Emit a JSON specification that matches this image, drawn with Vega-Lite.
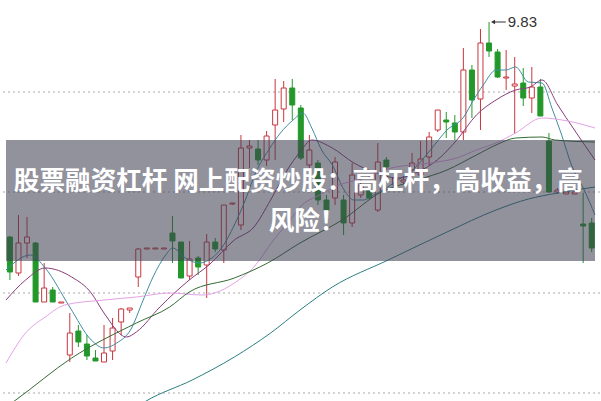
{
  "$schema": "https://vega.github.io/schema/vega-lite/v6.json",
  "width": 601,
  "height": 401,
  "padding": 0,
  "autosize": {"type": "fit", "contains": "padding"},
  "background": "#ffffff",
  "config": {"view": {"stroke": null}},
  "resolve": {"scale": {"color": "independent", "stroke": "independent", "fill": "independent"}},
  "datasets": {
    "candles": [
      {"t":0,"o":8.755,"h":8.76,"l":8.54,"c":8.58,"d":"down"},
      {"t":1,"o":8.575,"h":8.865,"l":8.56,"c":8.725,"d":"up"},
      {"t":2,"o":8.725,"h":8.855,"l":8.65,"c":8.755,"d":"up"},
      {"t":3,"o":8.725,"h":8.73,"l":8.43,"c":8.43,"d":"down"},
      {"t":4,"o":8.43,"h":8.625,"l":8.43,"c":8.5,"d":"up"},
      {"t":5,"o":8.49,"h":8.505,"l":8.43,"c":8.43,"d":"down"},
      {"t":6,"o":8.425,"h":8.43,"l":8.425,"c":8.43,"d":"up"},
      {"t":7,"o":8.165,"h":8.375,"l":8.13,"c":8.275,"d":"up"},
      {"t":8,"o":8.285,"h":8.315,"l":8.205,"c":8.23,"d":"down"},
      {"t":9,"o":8.22,"h":8.265,"l":8.14,"c":8.16,"d":"down"},
      {"t":10,"o":8.15,"h":8.19,"l":8.135,"c":8.135,"d":"down"},
      {"t":11,"o":8.13,"h":8.315,"l":8.13,"c":8.175,"d":"up"},
      {"t":12,"o":8.185,"h":8.35,"l":8.14,"c":8.3,"d":"up"},
      {"t":13,"o":8.33,"h":8.4,"l":8.265,"c":8.395,"d":"up"},
      {"t":14,"o":8.39,"h":8.4,"l":8.375,"c":8.4,"d":"up"},
      {"t":15,"o":8.555,"h":8.7,"l":8.505,"c":8.695,"d":"up"},
      {"t":16,"o":8.695,"h":8.7,"l":8.695,"c":8.7,"d":"up"},
      {"t":17,"o":8.695,"h":8.7,"l":8.695,"c":8.7,"d":"up"},
      {"t":18,"o":8.695,"h":8.7,"l":8.695,"c":8.7,"d":"up"},
      {"t":19,"o":8.775,"h":8.86,"l":8.625,"c":8.735,"d":"down"},
      {"t":20,"o":8.73,"h":8.73,"l":8.55,"c":8.55,"d":"down"},
      {"t":21,"o":8.56,"h":8.735,"l":8.54,"c":8.645,"d":"up"},
      {"t":22,"o":8.65,"h":8.66,"l":8.565,"c":8.605,"d":"down"},
      {"t":23,"o":8.615,"h":8.77,"l":8.45,"c":8.73,"d":"up"},
      {"t":24,"o":8.73,"h":8.75,"l":8.68,"c":8.695,"d":"down"},
      {"t":25,"o":8.69,"h":8.915,"l":8.625,"c":8.915,"d":"up"},
      {"t":26,"o":8.92,"h":8.925,"l":8.915,"c":8.925,"d":"up"},
      {"t":27,"o":8.815,"h":9.265,"l":8.79,"c":9.2,"d":"up"},
      {"t":28,"o":9.2,"h":9.24,"l":9.1,"c":9.21,"d":"up"},
      {"t":29,"o":9.195,"h":9.24,"l":9.115,"c":9.14,"d":"down"},
      {"t":30,"o":9.14,"h":9.285,"l":9.11,"c":9.26,"d":"up"},
      {"t":31,"o":9.315,"h":9.545,"l":9.14,"c":9.39,"d":"up"},
      {"t":32,"o":9.395,"h":9.535,"l":9.33,"c":9.5,"d":"up"},
      {"t":33,"o":9.5,"h":9.545,"l":9.34,"c":9.415,"d":"down"},
      {"t":34,"o":9.4,"h":9.415,"l":9.14,"c":9.15,"d":"down"},
      {"t":35,"o":9.115,"h":9.265,"l":9.09,"c":9.19,"d":"up"},
      {"t":36,"o":9.125,"h":9.14,"l":8.915,"c":8.94,"d":"down"},
      {"t":37,"o":8.94,"h":8.965,"l":8.865,"c":8.89,"d":"down"},
      {"t":38,"o":8.95,"h":9.155,"l":8.915,"c":9.13,"d":"up"},
      {"t":39,"o":8.94,"h":8.965,"l":8.765,"c":8.825,"d":"down"},
      {"t":40,"o":8.825,"h":9.125,"l":8.805,"c":9.065,"d":"up"},
      {"t":41,"o":8.965,"h":9.05,"l":8.95,"c":9.015,"d":"up"},
      {"t":42,"o":8.99,"h":9.01,"l":8.94,"c":8.95,"d":"down"},
      {"t":43,"o":8.89,"h":9.225,"l":8.88,"c":9.13,"d":"up"},
      {"t":44,"o":9.14,"h":9.155,"l":9.09,"c":9.105,"d":"down"},
      {"t":45,"o":9.015,"h":9.08,"l":8.99,"c":9.05,"d":"up"},
      {"t":46,"o":9.03,"h":9.05,"l":9.02,"c":9.04,"d":"up"},
      {"t":47,"o":9.09,"h":9.175,"l":9.08,"c":9.125,"d":"up"},
      {"t":48,"o":9.065,"h":9.235,"l":9.04,"c":9.145,"d":"up"},
      {"t":49,"o":9.155,"h":9.28,"l":9.115,"c":9.255,"d":"up"},
      {"t":50,"o":9.29,"h":9.39,"l":9.28,"c":9.39,"d":"up"},
      {"t":51,"o":9.34,"h":9.38,"l":9.25,"c":9.33,"d":"down"},
      {"t":52,"o":9.325,"h":9.365,"l":9.24,"c":9.28,"d":"down"},
      {"t":53,"o":9.28,"h":9.7,"l":9.24,"c":9.59,"d":"up"},
      {"t":54,"o":9.59,"h":9.615,"l":9.35,"c":9.44,"d":"down"},
      {"t":55,"o":9.445,"h":9.795,"l":9.29,"c":9.725,"d":"up"},
      {"t":56,"o":9.725,"h":9.83,"l":9.655,"c":9.685,"d":"down"},
      {"t":57,"o":9.68,"h":9.695,"l":9.55,"c":9.555,"d":"down"},
      {"t":58,"o":9.55,"h":9.69,"l":9.49,"c":9.555,"d":"up"},
      {"t":59,"o":9.51,"h":9.655,"l":9.27,"c":9.52,"d":"up"},
      {"t":60,"o":9.525,"h":9.6,"l":9.41,"c":9.45,"d":"down"},
      {"t":61,"o":9.45,"h":9.605,"l":9.375,"c":9.505,"d":"up"},
      {"t":62,"o":9.505,"h":9.545,"l":9.36,"c":9.36,"d":"down"},
      {"t":63,"o":9.235,"h":9.275,"l":8.98,"c":8.98,"d":"down"},
      {"t":64,"o":8.98,"h":9.0,"l":8.97,"c":8.99,"d":"up"},
      {"t":65,"o":8.97,"h":8.98,"l":8.97,"c":8.98,"d":"up"},
      {"t":66,"o":8.97,"h":8.98,"l":8.97,"c":8.98,"d":"up"},
      {"t":67,"o":8.82,"h":8.975,"l":8.625,"c":8.81,"d":"down"},
      {"t":68,"o":8.825,"h":8.85,"l":8.68,"c":8.7,"d":"down"}
    ],
    "ma": [
      {"s":"ma5","t":-0.458,"v":8.59},{"s":"ma5","t":2.405,"v":8.665},{"s":"ma5","t":4.124,"v":8.6},{"s":"ma5","t":6.987,"v":8.405},{"s":"ma5","t":9.507,"v":8.24},{"s":"ma5","t":10.997,"v":8.2},{"s":"ma5","t":12.486,"v":8.225},{"s":"ma5","t":14.089,"v":8.29},{"s":"ma5","t":15.578,"v":8.44},{"s":"ma5","t":16.724,"v":8.555},{"s":"ma5","t":18.213,"v":8.665},{"s":"ma5","t":19.015,"v":8.7},{"s":"ma5","t":20.504,"v":8.65},{"s":"ma5","t":22.108,"v":8.625},{"s":"ma5","t":23.253,"v":8.64},{"s":"ma5","t":24.742,"v":8.7},{"s":"ma5","t":26.231,"v":8.815},{"s":"ma5","t":27.377,"v":8.925},{"s":"ma5","t":28.752,"v":9.08},{"s":"ma5","t":30.241,"v":9.19},{"s":"ma5","t":31.615,"v":9.275},{"s":"ma5","t":33.104,"v":9.34},{"s":"ma5","t":34.25,"v":9.375},{"s":"ma5","t":35.281,"v":9.3},{"s":"ma5","t":36.426,"v":9.19},{"s":"ma5","t":37.686,"v":9.115},{"s":"ma5","t":39.061,"v":8.99},{"s":"ma5","t":40.206,"v":8.94},{"s":"ma5","t":41.352,"v":8.94},{"s":"ma5","t":42.497,"v":8.965},{"s":"ma5","t":43.986,"v":9.0},{"s":"ma5","t":45.361,"v":9.04},{"s":"ma5","t":47.079,"v":9.09},{"s":"ma5","t":49.141,"v":9.19},{"s":"ma5","t":51.088,"v":9.29},{"s":"ma5","t":53.036,"v":9.355},{"s":"ma5","t":54.181,"v":9.44},{"s":"ma5","t":55.326,"v":9.515},{"s":"ma5","t":56.816,"v":9.59},{"s":"ma5","t":57.961,"v":9.59},{"s":"ma5","t":59.107,"v":9.605},{"s":"ma5","t":60.596,"v":9.53},{"s":"ma5","t":62.199,"v":9.525},{"s":"ma5","t":63.345,"v":9.4},{"s":"ma5","t":64.49,"v":9.265},{"s":"ma5","t":65.636,"v":9.115},{"s":"ma5","t":67.125,"v":8.99},{"s":"ma5","t":68.385,"v":8.865},
      {"s":"ma10","t":-0.458,"v":8.44},{"s":"ma10","t":1.833,"v":8.54},{"s":"ma10","t":4.124,"v":8.6},{"s":"ma10","t":7.216,"v":8.555},{"s":"ma10","t":9.507,"v":8.475},{"s":"ma10","t":10.997,"v":8.375},{"s":"ma10","t":13.631,"v":8.255},{"s":"ma10","t":14.777,"v":8.28},{"s":"ma10","t":17.526,"v":8.405},{"s":"ma10","t":20.962,"v":8.54},{"s":"ma10","t":23.253,"v":8.615},{"s":"ma10","t":26.231,"v":8.74},{"s":"ma10","t":28.522,"v":8.805},{"s":"ma10","t":30.47,"v":8.94},{"s":"ma10","t":32.417,"v":9.09},{"s":"ma10","t":33.906,"v":9.18},{"s":"ma10","t":35.281,"v":9.24},{"s":"ma10","t":37.686,"v":9.2},{"s":"ma10","t":40.206,"v":9.125},{"s":"ma10","t":42.497,"v":9.08},{"s":"ma10","t":45.361,"v":9.05},{"s":"ma10","t":47.652,"v":9.08},{"s":"ma10","t":49.943,"v":9.14},{"s":"ma10","t":52.234,"v":9.24},{"s":"ma10","t":54.525,"v":9.365},{"s":"ma10","t":56.816,"v":9.44},{"s":"ma10","t":59.107,"v":9.49},{"s":"ma10","t":60.825,"v":9.505},{"s":"ma10","t":62.199,"v":9.54},{"s":"ma10","t":64.032,"v":9.415},{"s":"ma10","t":65.979,"v":9.29},{"s":"ma10","t":68.385,"v":9.14},
      {"s":"ma20","t":-0.458,"v":8.125},{"s":"ma20","t":1.833,"v":8.275},{"s":"ma20","t":4.124,"v":8.355},{"s":"ma20","t":6.415,"v":8.415},{"s":"ma20","t":10.997,"v":8.44},{"s":"ma20","t":14.777,"v":8.455},{"s":"ma20","t":18.671,"v":8.475},{"s":"ma20","t":22.451,"v":8.465},{"s":"ma20","t":23.94,"v":8.475},{"s":"ma20","t":26.231,"v":8.525},{"s":"ma20","t":28.522,"v":8.605},{"s":"ma20","t":30.813,"v":8.74},{"s":"ma20","t":32.761,"v":8.84},{"s":"ma20","t":33.906,"v":8.905},{"s":"ma20","t":36.197,"v":8.965},{"s":"ma20","t":38.488,"v":9.015},{"s":"ma20","t":41.581,"v":9.05},{"s":"ma20","t":44.559,"v":9.1},{"s":"ma20","t":49.141,"v":9.125},{"s":"ma20","t":52.234,"v":9.15},{"s":"ma20","t":54.525,"v":9.19},{"s":"ma20","t":56.816,"v":9.225},{"s":"ma20","t":59.107,"v":9.275},{"s":"ma20","t":62.199,"v":9.35},{"s":"ma20","t":65.178,"v":9.335},{"s":"ma20","t":68.385,"v":9.3},
      {"s":"ma30","t":-0.458,"v":7.905},{"s":"ma30","t":0.687,"v":7.94},{"s":"ma30","t":7.216,"v":8.15},{"s":"ma30","t":14.777,"v":8.325},{"s":"ma30","t":18.671,"v":8.405},{"s":"ma30","t":20.962,"v":8.48},{"s":"ma30","t":26.231,"v":8.55},{"s":"ma30","t":30.126,"v":8.625},{"s":"ma30","t":33.906,"v":8.725},{"s":"ma30","t":38.832,"v":8.84},{"s":"ma30","t":43.414,"v":8.98},{"s":"ma30","t":47.652,"v":9.04},{"s":"ma30","t":51.088,"v":9.09},{"s":"ma30","t":54.525,"v":9.165},{"s":"ma30","t":56.816,"v":9.215},{"s":"ma30","t":59.107,"v":9.25},{"s":"ma30","t":62.199,"v":9.255},{"s":"ma30","t":63.688,"v":9.24},{"s":"ma30","t":68.385,"v":9.23},
      {"s":"ma120","t":15.349,"v":7.92},{"s":"ma120","t":15.922,"v":7.935},{"s":"ma120","t":21.306,"v":8.04},{"s":"ma120","t":26.231,"v":8.155},{"s":"ma120","t":30.47,"v":8.275},{"s":"ma120","t":33.906,"v":8.39},{"s":"ma120","t":37.686,"v":8.505},{"s":"ma120","t":44.215,"v":8.64},{"s":"ma120","t":51.088,"v":8.78},{"s":"ma120","t":56.816,"v":8.89},{"s":"ma120","t":60.596,"v":8.945},{"s":"ma120","t":64.032,"v":8.975},{"s":"ma120","t":68.385,"v":9.005}
    ],
    "grid": [{"v":9.48},{"v":8.98},{"v":8.475},{"v":7.975}],
    "band": [{"t1":-0.458,"t2":68.385,"v1":9.24,"v2":8.635}],
    "titles": [
      {"t":0.46,"v":8.99,"txt":"股票融资杠杆 网上配资炒股：高杠杆，高收益，高"},
      {"t":30.24,"v":8.79,"txt":"风险！"}
    ],
    "peak": [{"t1":56.47,"t2":57.96,"v":9.83,"tt":58.19,"txt":"9.83"}]
  },
  "layer": [
    {
      "data": {"name": "grid"},
      "mark": {"type": "rule", "stroke": "#a8a8a8", "strokeWidth": 1, "strokeDash": [2, 3]},
      "encoding": {
        "y": {"field": "v", "type": "quantitative", "scale": {"domain": [7.935, 9.94], "nice": false, "zero": false}, "axis": null}
      }
    },
    {
      "data": {"name": "candles"},
      "mark": {"type": "rule", "strokeWidth": 1},
      "encoding": {
        "x": {"field": "t", "type": "quantitative", "scale": {"domain": [-0.458, 68.385], "nice": false, "zero": false}, "axis": null},
        "y": {"field": "l", "type": "quantitative", "scale": {"domain": [7.935, 9.94], "nice": false, "zero": false}, "axis": null},
        "y2": {"field": "h"},
        "color": {"field": "d", "type": "nominal", "scale": {"domain": ["up", "down"], "range": ["#c8363f", "#23982a"]}, "legend": null}
      }
    },
    {
      "data": {"name": "candles"},
      "mark": {"type": "bar", "size": 5, "strokeWidth": 1},
      "encoding": {
        "x": {"field": "t", "type": "quantitative", "scale": {"domain": [-0.458, 68.385], "nice": false, "zero": false}, "axis": null},
        "y": {"field": "o", "type": "quantitative", "scale": {"domain": [7.935, 9.94], "nice": false, "zero": false}, "axis": null},
        "y2": {"field": "c"},
        "fill": {"field": "d", "type": "nominal", "scale": {"domain": ["up", "down"], "range": ["#ffffff", "#23982a"]}, "legend": null},
        "stroke": {"field": "d", "type": "nominal", "scale": {"domain": ["up", "down"], "range": ["#c8363f", "#23982a"]}, "legend": null}
      }
    },
    {
      "data": {"name": "ma"},
      "mark": {"type": "line", "strokeWidth": 1, "clip": true, "interpolate": "monotone"},
      "encoding": {
        "x": {"field": "t", "type": "quantitative", "scale": {"domain": [-0.458, 68.385], "nice": false, "zero": false}, "axis": null},
        "y": {"field": "v", "type": "quantitative", "scale": {"domain": [7.935, 9.94], "nice": false, "zero": false}, "axis": null},
        "color": {"field": "s", "type": "nominal", "scale": {"domain": ["ma5", "ma10", "ma20", "ma30", "ma120"], "range": ["#3f8ea0", "#8a3d7c", "#e4a2e6", "#336b33", "#2b7f82"]}, "legend": null},
        "detail": {"field": "s"}
      }
    },
    {
      "data": {"name": "band"},
      "mark": {"type": "rect", "fill": "#3c3c50", "opacity": 0.56},
      "encoding": {
        "x": {"field": "t1", "type": "quantitative", "scale": {"domain": [-0.458, 68.385], "nice": false, "zero": false}, "axis": null},
        "x2": {"field": "t2"},
        "y": {"field": "v1", "type": "quantitative", "scale": {"domain": [7.935, 9.94], "nice": false, "zero": false}, "axis": null},
        "y2": {"field": "v2"}
      }
    },
    {
      "data": {"name": "titles"},
      "mark": {"type": "text", "align": "left", "baseline": "alphabetic", "font": "Noto Sans CJK SC", "fontWeight": "bold", "fontSize": 25.6, "fill": "#ffffff"},
      "encoding": {
        "x": {"field": "t", "type": "quantitative", "scale": {"domain": [-0.458, 68.385], "nice": false, "zero": false}, "axis": null},
        "y": {"field": "v", "type": "quantitative", "scale": {"domain": [7.935, 9.94], "nice": false, "zero": false}, "axis": null},
        "text": {"field": "txt"}
      }
    },
    {
      "data": {"name": "peak"},
      "mark": {"type": "rule", "stroke": "#333333", "strokeWidth": 1},
      "encoding": {
        "x": {"field": "t1", "type": "quantitative", "scale": {"domain": [-0.458, 68.385], "nice": false, "zero": false}, "axis": null},
        "x2": {"field": "t2"},
        "y": {"field": "v", "type": "quantitative", "scale": {"domain": [7.935, 9.94], "nice": false, "zero": false}, "axis": null}
      }
    },
    {
      "data": {"name": "peak"},
      "mark": {"type": "point", "shape": "triangle-left", "filled": true, "size": 22, "color": "#333333", "opacity": 1},
      "encoding": {
        "x": {"field": "t1", "type": "quantitative", "scale": {"domain": [-0.458, 68.385], "nice": false, "zero": false}, "axis": null},
        "y": {"field": "v", "type": "quantitative", "scale": {"domain": [7.935, 9.94], "nice": false, "zero": false}, "axis": null}
      }
    },
    {
      "data": {"name": "peak"},
      "mark": {"type": "text", "align": "left", "baseline": "middle", "font": "Liberation Sans", "fontSize": 15, "fill": "#333333"},
      "encoding": {
        "x": {"field": "tt", "type": "quantitative", "scale": {"domain": [-0.458, 68.385], "nice": false, "zero": false}, "axis": null},
        "y": {"field": "v", "type": "quantitative", "scale": {"domain": [7.935, 9.94], "nice": false, "zero": false}, "axis": null},
        "text": {"field": "txt"}
      }
    }
  ]
}
